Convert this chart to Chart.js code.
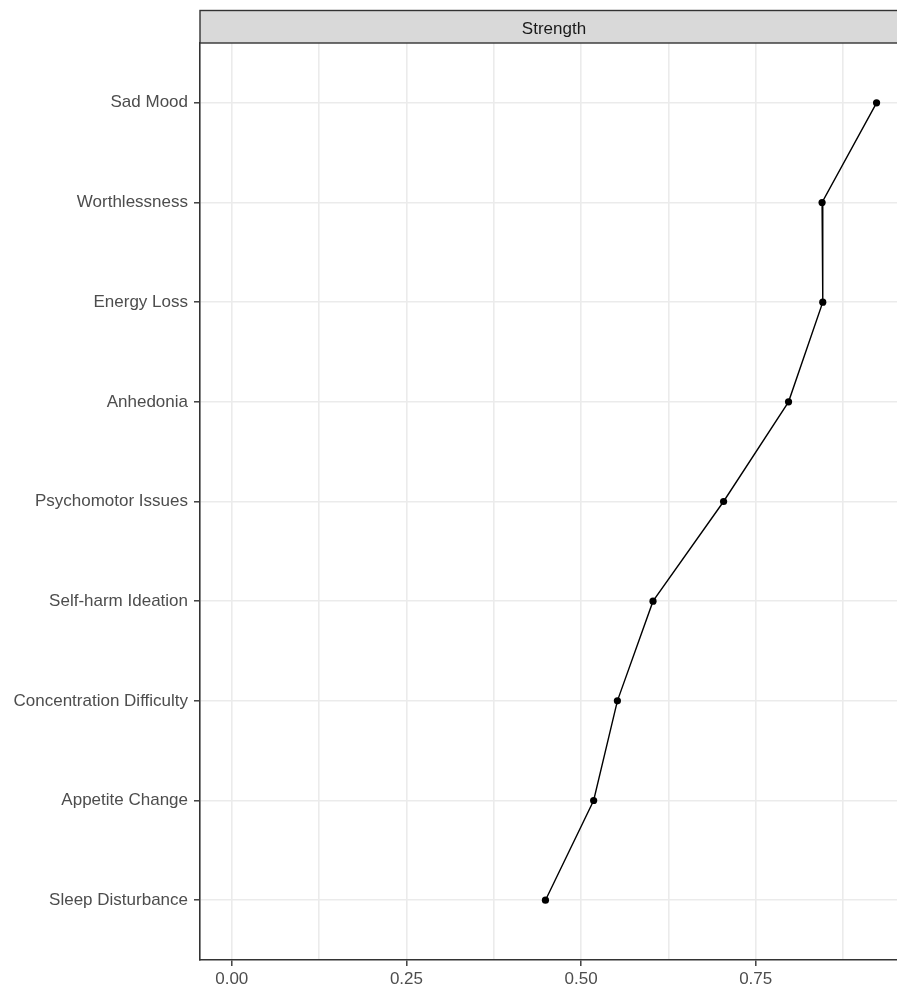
<!DOCTYPE html>
<html>
<head>
<meta charset="utf-8">
<script src="https://cdn.jsdelivr.net/npm/chart.js@4/dist/chart.umd.min.js"></script>
<style>
  html, body { margin: 0; padding: 0; background: #fff; overflow: hidden; }
  #chart { display: block; }
</style>
</head>
<body>
<canvas id="chart" width="912" height="989"></canvas>
<script>
// symptoms, top to bottom
var categories = ["Sad Mood", "Worthlessness", "Energy Loss", "Anhedonia",
                  "Psychomotor Issues", "Self-harm Ideation", "Concentration Difficulty",
                  "Appetite Change", "Sleep Disturbance"];
var strength = [0.923, 0.845, 0.846, 0.797, 0.704, 0.603, 0.552, 0.518, 0.449];
var xTickLabels = ["0.00", "0.25", "0.50", "0.75"];
var facetLabel = "Strength";

var fontFamily = "'Liberation Sans', Arial, sans-serif";

function makePoints() {
    var pts = [];
    for (var i = 0; i < categories.length; i++) {
        pts.push({ x: strength[i], y: i });
    }
    return pts;
}

function isMajor(v) {
    return Math.abs(v / 0.25 - Math.round(v / 0.25)) < 1e-6;
}

// grey facet strip above the panel
var stripPlugin = {
    id: "strip",
    afterDraw: function (chart) {
        var ctx = chart.ctx;
        var a = chart.chartArea;
        ctx.save();
        ctx.fillStyle = "#d9d9d9";
        ctx.fillRect(a.left, 10.5, a.right - a.left, 32.5);
        ctx.strokeStyle = "#333333";
        ctx.lineWidth = 1.4;
        ctx.strokeRect(a.left, 10.5, a.right - a.left, 32.5);
        ctx.fillStyle = "#1a1a1a";
        ctx.font = "17px " + fontFamily;
        ctx.textAlign = "center";
        ctx.textBaseline = "middle";
        ctx.fillText(facetLabel, (a.left + a.right) / 2, 29);
        ctx.restore();
    }
};

var chart = new Chart(document.getElementById("chart"), {
    type: "line",
    data: {
        datasets: [{
            data: makePoints(),
            borderColor: "#000000",
            borderWidth: 1.4,
            backgroundColor: "#000000",
            pointRadius: 3.6,
            pointBorderWidth: 0,
            tension: 0
        }]
    },
    options: {
        responsive: false,
        animation: false,
        layout: { padding: { top: 43, right: 2, left: 0, bottom: 0 } },
        plugins: { legend: { display: false }, tooltip: { enabled: false } },
        scales: {
            x: {
                type: "linear",
                min: -0.0455,
                max: 0.968,
                afterFit: function (scale) { scale.height = 29; },
                border: { color: "#333333", width: 1.6 },
                grid: {
                    color: "#ebebeb",
                    lineWidth: 1.6,
                    tickLength: 6,
                    tickWidth: 1.4,
                    tickColor: function (ctx) {
                        return ctx.tick && isMajor(ctx.tick.value) ? "#333333" : "rgba(0,0,0,0)";
                    }
                },
                ticks: {
                    stepSize: 0.125,
                    includeBounds: false,
                    autoSkip: false,
                    maxRotation: 0,
                    padding: 3,
                    color: "#4d4d4d",
                    font: { family: fontFamily, size: 17 },
                    callback: function (v) {
                        return isMajor(v) ? xTickLabels[Math.round(v / 0.25)] : "";
                    }
                }
            },
            y: {
                type: "linear",
                reverse: true,
                min: -0.6,
                max: 8.6,
                afterFit: function (scale) { scale.width = 200; },
                border: { color: "#333333", width: 1.6 },
                grid: {
                    color: "#ebebeb",
                    lineWidth: 1.6,
                    tickLength: 6,
                    tickWidth: 1.4,
                    tickColor: "#333333"
                },
                ticks: {
                    stepSize: 1,
                    includeBounds: false,
                    autoSkip: false,
                    padding: 6,
                    color: "#4d4d4d",
                    font: { family: fontFamily, size: 17 },
                    callback: function (v) {
                        return categories[Math.round(v)];
                    }
                }
            }
        }
    },
    plugins: [stripPlugin]
});
</script>
</body>
</html>
